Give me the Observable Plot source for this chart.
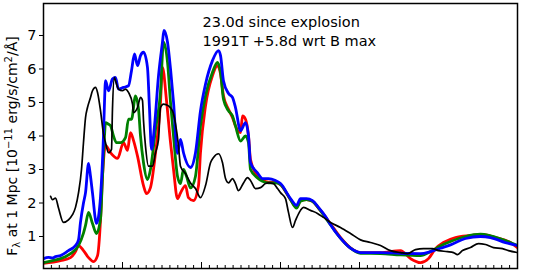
<!DOCTYPE html>
<html><head><meta charset="utf-8">
<script src="https://cdn.jsdelivr.net/npm/d3@7"></script>
<script src="https://cdn.jsdelivr.net/npm/@observablehq/plot@0.6"></script>
<style>body{margin:0;background:#fff} svg{display:block}</style>
</head><body><div id="chart"></div>
<script>
// wavelength (Å), flux (1e-11 erg/s/cm²/Å)
const modelRed = [[3000,0.2],[3215,0.28],[3342,0.37],[3405,0.55],[3443,0.73],[3506,0.58],[3570,0.37],[3633,0.25],[3684,0.43],[3722,1.5],[3747,2.8],[3785,3.72],[3848,3.5],[3937,3.33],[4013,3.8],[4063,3.57],[4101,4.1],[4139,3.87],[4190,3.4],[4266,2.52],[4304,2.28],[4354,2.46],[4418,3.5],[4481,5.0],[4506,6.05],[4557,5.06],[4608,3.8],[4646,3.0],[4696,2.13],[4734,2.3],[4797,2.52],[4835,2.16],[4899,2.07],[4962,2.52],[4987,3.5],[5051,4.9],[5139,5.8],[5203,6.1],[5241,5.85],[5278,5.2],[5342,4.8],[5392,4.55],[5430,4.3],[5494,4.1],[5519,4.6],[5557,4.5],[5595,4.0],[5620,3.3],[5709,2.8],[5772,2.68],[5848,2.62],[5937,2.62],[6000,2.55],[6127,2.1],[6203,1.87],[6253,2.07],[6329,2.1],[6405,2.05],[6481,1.85],[6633,1.38],[6759,0.97],[6886,0.66],[7013,0.52],[7266,0.52],[7519,0.58],[7646,0.34],[7772,0.22],[7873,0.34],[7962,0.64],[8063,0.82],[8215,0.97],[8405,1.03],[8532,1.06],[8722,0.97],[8911,0.82],[9000,0.67]];
const modelGreen = [[3000,0.22],[3152,0.3],[3215,0.34],[3342,0.49],[3443,0.73],[3506,1.1],[3532,1.33],[3570,1.72],[3620,1.39],[3671,1.09],[3722,1.54],[3747,2.8],[3772,4.0],[3785,4.4],[3823,4.35],[3848,4.31],[3886,4.0],[3924,3.8],[3975,3.8],[4038,3.95],[4076,4.5],[4114,4.5],[4165,5.2],[4203,4.8],[4228,4.0],[4266,3.2],[4316,2.7],[4354,3.0],[4418,4.2],[4481,5.3],[4519,6.8],[4570,6.2],[4608,5.0],[4646,4.0],[4696,2.8],[4734,2.58],[4772,3.0],[4810,2.8],[4861,2.45],[4924,2.8],[4987,4.3],[5051,5.2],[5139,5.9],[5203,6.2],[5241,5.9],[5278,5.1],[5342,4.75],[5392,4.6],[5430,4.3],[5494,3.85],[5557,4.0],[5595,3.8],[5620,3.0],[5709,2.75],[5772,2.65],[5848,2.6],[5937,2.6],[6000,2.55],[6127,2.1],[6203,1.85],[6253,2.05],[6329,2.1],[6405,2.05],[6481,1.85],[6633,1.35],[6759,0.95],[6886,0.65],[7013,0.5],[7266,0.49],[7519,0.45],[7772,0.43],[7900,0.55],[8025,0.72],[8152,0.85],[8342,1.0],[8532,1.07],[8658,1.02],[8848,0.88],[9000,0.73]];
const modelBlue = [[3000,0.34],[3063,0.38],[3114,0.36],[3152,0.4],[3215,0.43],[3316,0.58],[3405,0.73],[3443,0.9],[3468,1.42],[3506,2.0],[3532,2.31],[3570,3.18],[3595,2.8],[3620,2.3],[3671,1.39],[3697,1.6],[3722,2.2],[3759,4.0],[3772,5.0],[3785,5.65],[3823,5.35],[3873,5.7],[3911,5.75],[3949,5.4],[4013,5.45],[4076,5.5],[4114,5.95],[4152,6.45],[4190,6.1],[4228,6.4],[4266,6.5],[4316,6.05],[4342,4.8],[4367,3.6],[4405,4.3],[4456,5.8],[4506,6.8],[4525,7.15],[4570,6.8],[4608,6.0],[4646,5.0],[4696,3.48],[4734,3.9],[4772,3.5],[4861,3.06],[4924,3.5],[4987,4.75],[5051,5.55],[5139,6.25],[5215,6.55],[5241,6.4],[5278,5.65],[5342,5.27],[5392,5.15],[5430,4.85],[5494,4.16],[5557,4.4],[5595,4.0],[5620,3.2],[5709,2.9],[5772,2.73],[5848,2.73],[5937,2.67],[6000,2.58],[6127,2.13],[6203,1.93],[6253,2.13],[6329,2.13],[6405,2.07],[6481,1.87],[6570,1.6],[6633,1.35],[6759,0.95],[6886,0.65],[7013,0.52],[7266,0.52],[7519,0.5],[7772,0.49],[7899,0.55],[8025,0.65],[8152,0.75],[8342,0.94],[8532,1.0],[8658,0.97],[8848,0.82],[9000,0.73]];
const observed1991T = [[3090,2.2],[3114,2.1],[3152,2.15],[3190,1.85],[3253,1.42],[3316,1.5],[3367,1.65],[3405,1.87],[3443,2.3],[3481,3.0],[3506,3.8],[3532,4.55],[3557,4.85],[3595,5.15],[3620,5.35],[3658,5.45],[3684,5.3],[3722,4.75],[3759,4.07],[3785,3.8],[3823,3.5],[3861,3.6],[3873,4.8],[3898,5.75],[3911,5.65],[3949,5.4],[4000,5.35],[4038,5.4],[4076,5.3],[4127,4.95],[4139,4.7],[4190,4.85],[4228,5.15],[4253,5.06],[4266,4.46],[4291,3.7],[4329,3.1],[4380,3.1],[4418,3.5],[4456,3.9],[4481,4.85],[4519,4.95],[4582,4.9],[4633,4.75],[4671,4.36],[4709,3.7],[4734,3.1],[4797,2.88],[4861,2.6],[4924,2.43],[4987,2.16],[5051,2.52],[5114,3.2],[5152,3.36],[5215,3.47],[5266,3.2],[5304,2.73],[5342,2.6],[5392,2.73],[5430,2.58],[5468,2.37],[5532,2.6],[5582,2.76],[5620,2.67],[5684,2.43],[5747,2.46],[5810,2.58],[5848,2.6],[5911,2.58],[5962,2.43],[6000,2.31],[6063,2.13],[6101,1.72],[6152,1.27],[6190,1.48],[6253,1.78],[6291,1.87],[6380,1.78],[6468,1.69],[6544,1.57],[6633,1.42],[6759,1.27],[6886,1.09],[7013,0.9],[7139,0.82],[7266,0.73],[7392,0.58],[7519,0.52],[7608,0.49],[7709,0.61],[7810,0.64],[7924,0.64],[8000,0.58],[8114,0.55],[8190,0.52],[8241,0.46],[8304,0.58],[8405,0.67],[8506,0.79],[8595,0.76],[8696,0.67],[8810,0.64],[8886,0.58],[9000,0.52]];

const majorXTicks = [3000,4000,5000,6000,7000,8000,9000];
const minorXTicks = d3.range(3000, 9001, 100);
const yTicks = [1,2,3,4,5,6,7];
const notes = ["23.0d since explosion", "1991T +5.8d wrt B max"];

const lineOpts = (color, w) => ({x: d => d[0], y: d => d[1], stroke: color, strokeWidth: w, curve: "monotone-x", clip: true});

const plot = Plot.plot({
  width: 538, height: 271,
  marginLeft: 43, marginRight: 21, marginTop: 3, marginBottom: 3,
  style: {fontFamily: "DejaVu Sans, Verdana, sans-serif", fontSize: "14px", color: "#000", background: "#fff", overflow: "visible"},
  x: {domain: [3000, 9000]},
  y: {domain: [0.045, 7.955]},
  marks: [
    Plot.line(modelRed, lineOpts("#ff0000", 2.8)),
    Plot.line(modelGreen, lineOpts("#008000", 2.8)),
    Plot.line(modelBlue, lineOpts("#0000ff", 2.8)),
    Plot.line(observed1991T, lineOpts("#000000", 1.7)),
    Plot.axisX({ticks: minorXTicks, tickSize: -3, tickFormat: () => "", label: null}),
    Plot.axisX({ticks: majorXTicks, tickSize: -6, tickFormat: () => "", label: null}),
    Plot.axisY({ticks: yTicks, tickSize: 4, tickPadding: 3, label: null, fontSize: 14.5}),
    Plot.frame({stroke: "#000", strokeWidth: 1.5}),
    Plot.text([notes.join("\n")], {frameAnchor: "top-left", dx: 159, dy: 10, textAnchor: "start", lineAnchor: "top", lineHeight: 1.32, fontSize: 14.5, fill: "#000"})
  ]
});

const svg = d3.select(plot);
const lab = svg.append("text")
  .attr("transform", "translate(17,146) rotate(-90)")
  .attr("text-anchor", "middle")
  .attr("fill", "#000")
  .style("font-size", "14px");
lab.append("tspan").text("F");
lab.append("tspan").attr("dy", 3).style("font-size", "10px").text("λ");
lab.append("tspan").attr("dy", -3).text(" at 1 Mpc [10");
lab.append("tspan").attr("dy", -5).style("font-size", "10px").text("−11");
lab.append("tspan").attr("dy", 5).text(" erg/s/cm");
lab.append("tspan").attr("dy", -5).style("font-size", "10px").text("2");
lab.append("tspan").attr("dy", 5).text("/Å]");

document.getElementById("chart").appendChild(plot);
</script>
</body></html>
